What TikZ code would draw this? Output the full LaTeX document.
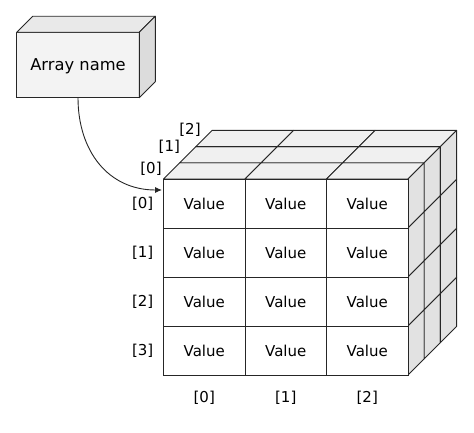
\documentclass[tikz,border=0pt]{standalone}
\usepackage{fontspec}
\setmainfont{DejaVu Sans}
\usetikzlibrary{arrows.meta}
\definecolor{edge}{HTML}{262626}
\definecolor{topc}{HTML}{F0F0F0}
\definecolor{sidec}{HTML}{E2E2E2}
\definecolor{boxfront}{HTML}{F3F3F3}
\definecolor{boxtop}{HTML}{E9E9E9}
\definecolor{boxside}{HTML}{DCDCDC}
\begin{document}
\begin{tikzpicture}[x=1pt,y=-1pt,line width=0.9pt,
  topface/.style={draw=edge,fill=topc,line join=round},
  sideface/.style={draw=edge,fill=sidec,line join=round},
  cell/.style={draw=edge,fill=white,minimum width=81.5pt,minimum height=49pt,inner sep=0pt,outer sep=0pt,font=\fontsize{15}{17}\selectfont},
  idx/.style={inner sep=0pt,font=\fontsize{15}{17}\selectfont,text=black},
  namebox/.style={draw=edge,fill=boxfront,minimum width=122.6pt,minimum height=65.4pt,inner sep=0pt,outer sep=0pt,text depth=0pt,font=\fontsize{16.3}{19}\selectfont},
  link/.style={draw=edge,line width=0.9pt,-{Latex[length=7pt,width=6pt]}}]
\useasboundingbox (0,0) rectangle (474,433);
\def\X{163.5}\def\Y{179}\def\cw{81.5}\def\rh{49}\def\d{16.2}
% array name box
\node[namebox] (name) at (78,65) {Array name};
\filldraw[draw=edge,fill=boxtop,line join=round] (name.north west) -- ++(16,-16) -- ++(122.6,0) -- (name.north east) -- cycle;
\filldraw[draw=edge,fill=boxside,line join=round] (name.north east) -- ++(16,-16) -- ++(0,65.4) -- (name.south east) -- cycle;
% top faces
\foreach \k in {0,1,2}{
  \foreach \c in {0,1,2}{
    \filldraw[topface] ({\X+\c*\cw+\k*\d},{\Y-\k*\d}) -- ++(\cw,0) -- ++(\d,-\d) -- ++(-\cw,0) -- cycle;
  }
}
% side faces
\foreach \k in {0,1,2}{
  \foreach \r in {0,1,2,3}{
    \filldraw[sideface] ({\X+3*\cw+\k*\d},{\Y+\r*\rh-\k*\d}) -- ++(\d,-\d) -- ++(0,\rh) -- ++(-\d,\d) -- cycle;
  }
}
% front cells
\foreach \r in {0,1,2,3}{
  \foreach \c in {0,1,2}{
    \node[cell] (c\r\c) at ({\X+(\c+0.5)*\cw},{\Y+(\r+0.5)*\rh}) {Value};
  }
}
% row labels
\foreach \r in {0,1,2,3}{
  \node[idx] (row\r) at (142.7,{\Y+(\r+0.5)*\rh}) {[\r]};
}
% column labels
\foreach \c in {0,1,2}{
  \node[idx] (col\c) at ({\X+(\c+0.5)*\cw},397.7) {[\c]};
}
% depth labels
\node[idx] (dep0) at (151,168.5) {[0]};
\node[idx] (dep1) at (169.3,147) {[1]};
\node[idx] (dep2) at (190,129.5) {[2]};
% arrow
\coordinate (target) at (162,190);
\draw[link] (name.south) to[out=-90,in=180,looseness=1.1] (target);
\end{tikzpicture}
\end{document}
